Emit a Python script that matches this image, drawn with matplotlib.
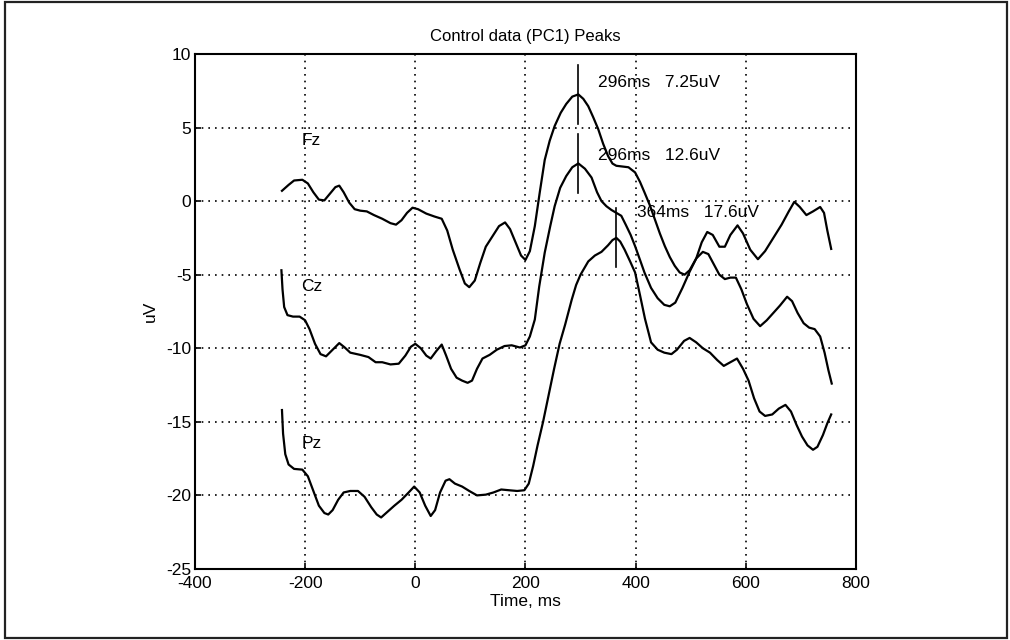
import matplotlib
matplotlib.use("Agg")
import matplotlib.pyplot as plt
from matplotlib.patches import Rectangle

# Fz trace (ms, uV)
fz_time = [-242, -230, -220, -205, -195, -185, -175, -165, -155, -145, -138, -130, -120, -110, -100,
           -88, -75, -60, -45, -35, -25, -15, -5, 5, 20, 35, 48, 58, 68, 80, 90, 98, 108, 118, 128,
           140, 152, 163, 172, 182, 192, 200, 208, 217, 226, 235, 244, 253, 264, 274, 285, 296, 305,
           314, 323, 332, 341, 350, 358, 365, 376, 387, 399, 408, 416, 426, 435, 444, 453, 462, 471,
           480, 489, 498, 510, 520, 530, 540, 552, 562, 572, 585, 595, 608, 622, 635, 650, 665, 678,
           688, 698, 710, 722, 735, 742, 748, 755]
fz_uv = [0.7, 1.1, 1.4, 1.45, 1.2, 0.6, 0.1, 0.05, 0.5, 0.95, 1.05, 0.6, -0.1, -0.55, -0.65,
         -0.7, -0.95, -1.2, -1.5, -1.6, -1.3, -0.8, -0.45, -0.55, -0.85, -1.05, -1.2, -2.0, -3.3, -4.6, -5.6, -5.85, -5.4, -4.2, -3.1,
         -2.4, -1.7, -1.45, -1.9, -2.8, -3.7, -4.0, -3.4, -1.7, 0.6, 2.8, 4.1, 5.1, 6.0, 6.6, 7.1, 7.25, 6.95,
         6.45, 5.7, 4.9, 3.9, 3.06, 2.55, 2.4, 2.35, 2.3, 1.95, 1.3, 0.6, -0.3, -1.25, -2.2, -3.06, -3.8, -4.4,
         -4.85, -5.0, -4.7, -3.9, -2.8, -2.1, -2.3, -3.1, -3.1, -2.3, -1.65, -2.2, -3.3, -3.95, -3.4, -2.5, -1.6, -0.7,
         -0.05, -0.4, -0.95, -0.7, -0.4, -0.8, -2.0, -3.25]

# Cz trace
cz_time = [-243, -241, -238, -232, -222, -210, -200, -192, -182, -172, -162, -150, -138, -128, -118,
           -100, -85, -72, -60, -45, -30, -18, -8, 0, 10, 20, 28, 38, 48, 56, 65, 75, 85, 95, 103,
           112, 122, 135, 148, 162, 175, 190, 200, 208, 217, 225, 235, 245, 253, 263, 274, 285, 296,
           308, 320, 330, 338, 347, 356, 365, 374, 382, 391, 399, 408, 416, 428, 440, 452, 462, 472,
           485, 498, 510, 522, 532, 542, 552, 562, 572, 582, 592, 602, 614, 626, 638, 650, 662, 675,
           684, 694, 705, 715, 725, 735, 743, 750, 756]
cz_uv = [-4.7, -6.0, -7.2, -7.75, -7.85, -7.85, -8.1, -8.7, -9.7, -10.4, -10.55, -10.1, -9.65, -9.95, -10.3,
         -10.45, -10.6, -10.95, -10.95, -11.1, -11.05, -10.5, -9.9, -9.7, -10.0, -10.5, -10.7, -10.2, -9.75, -10.5, -11.4, -12.0, -12.2, -12.35, -12.2,
         -11.4, -10.7, -10.45, -10.1, -9.85, -9.8, -9.95, -9.8, -9.2, -8.05, -5.8, -3.5, -1.7, -0.35, 0.9, 1.7, 2.3, 2.56,
         2.2, 1.6, 0.6, 0.0, -0.35, -0.6, -0.8, -1.0, -1.6, -2.3, -3.06, -4.0, -4.85, -5.9, -6.6, -7.05, -7.15, -6.9,
         -5.9, -4.8, -3.9, -3.45, -3.6, -4.3, -5.0, -5.3, -5.2, -5.2, -6.0, -7.0, -8.0, -8.5, -8.1, -7.6, -7.1, -6.5,
         -6.8, -7.6, -8.3, -8.6, -8.7, -9.2, -10.3, -11.5, -12.4]

# Pz trace
pz_time = [-242, -240, -236, -230, -220, -205, -195, -185, -175, -165, -158, -150, -140, -130, -118,
           -104, -92, -80, -70, -62, -50, -38, -25, -12, -2, 8, 18, 28, 36, 45, 55, 62, 72, 85, 98,
           112, 128, 142, 156, 170, 185, 198, 206, 214, 222, 232, 242, 252, 262, 272, 284, 292, 300,
           314, 326, 338, 350, 358, 365, 372, 380, 390, 399, 408, 417, 428, 440, 452, 465, 475, 488,
           498, 510, 522, 535, 548, 560, 572, 584, 595, 605, 615, 625, 635, 648, 660, 672, 682, 692,
           702, 712, 722, 730, 740, 748, 755]
pz_uv = [-14.2, -15.8, -17.2, -17.9, -18.2, -18.25, -18.7, -19.7, -20.7, -21.2, -21.3, -21.0, -20.3, -19.8, -19.7,
         -19.7, -20.1, -20.8, -21.3, -21.5, -21.1, -20.7, -20.3, -19.8, -19.4, -19.8, -20.7, -21.4, -21.0, -19.8, -19.0, -18.9, -19.2, -19.4, -19.7,
         -20.0, -19.95, -19.8, -19.6, -19.65, -19.7, -19.65, -19.2, -18.0, -16.6, -15.0, -13.2, -11.4, -9.7, -8.4, -6.7, -5.7, -5.0,
         -4.1, -3.7, -3.45, -3.0, -2.65, -2.5, -2.75, -3.3, -4.1, -4.85, -6.4, -8.0, -9.6, -10.1, -10.3, -10.4, -10.1, -9.5,
         -9.3, -9.6, -10.0, -10.3, -10.8, -11.2, -10.95, -10.7, -11.4, -12.2, -13.4, -14.3, -14.6, -14.5, -14.1, -13.85, -14.3, -15.2,
         -16.0, -16.6, -16.9, -16.7, -15.9, -15.1, -14.5]

# peaks and their text
peak_time = [296, 296, 364]
peak_uv = [7.25, 2.56, -2.5]
peak_text = ["296ms   7.25uV", "296ms   12.6uV", "364ms   17.6uV"]
peak_text_x = [332, 332, 402]
peak_text_y = [8.07, 3.1, -0.75]

# channel names
chan_names = ["Fz", "Cz", "Pz"]
chan_x = [-207, -207, -207]
chan_y = [4.1, -5.8, -16.5]

x_ticks = [-400, -200, 0, 200, 400, 600, 800]
y_ticks = [-25, -20, -15, -10, -5, 0, 5, 10]

plt.rcParams['font.family'] = ['Liberation Sans', 'DejaVu Sans']
plt.rcParams['font.size'] = 12
plt.rcParams['axes.unicode_minus'] = False

fig = plt.figure(figsize=(10.1, 6.4), dpi=100)
ax = fig.add_axes([0.193, 0.111, 0.6545, 0.8047])

# frame round the whole figure
fig.patches.append(Rectangle((0.005, 0.003), 0.992, 0.994, transform=fig.transFigure,
                             fill=False, edgecolor='#222222', linewidth=1.6))

for t, v in [(fz_time, fz_uv), (cz_time, cz_uv), (pz_time, pz_uv)]:
    ax.plot(t, v, color='black', linewidth=1.6)

# peak markers: vertical line +-2 uV round the peak
for i in range(len(peak_time)):
    ax.plot([peak_time[i], peak_time[i]], [peak_uv[i] - 2, peak_uv[i] + 2], color='black', linewidth=1.2)
    ax.text(peak_text_x[i], peak_text_y[i], peak_text[i], ha='left', va='center', fontsize=12.5)

for i in range(len(chan_names)):
    ax.text(chan_x[i], chan_y[i], chan_names[i], ha='left', va='center', fontsize=12.5)

ax.set_xlim(-400, 800)
ax.set_ylim(-25, 10)
ax.set_xticks(x_ticks)
ax.set_yticks(y_ticks)
ax.grid(True, color='black', linestyle=(0, (1, 3)), linewidth=1.2)
ax.tick_params(axis='both', direction='in', length=4, width=1.2, labelsize=12.5)
ax.tick_params(axis='x', pad=5)
ax.tick_params(axis='y', pad=2.5)
for sp in ax.spines.values():
    sp.set_linewidth(1.5)

ax.set_title("Control data (PC1) Peaks", fontsize=12, pad=9)
ax.set_xlabel("Time, ms", fontsize=12.5, labelpad=2)
ax.set_ylabel("uV", fontsize=12.5, labelpad=6)

plt.savefig("out.png", dpi=100)
